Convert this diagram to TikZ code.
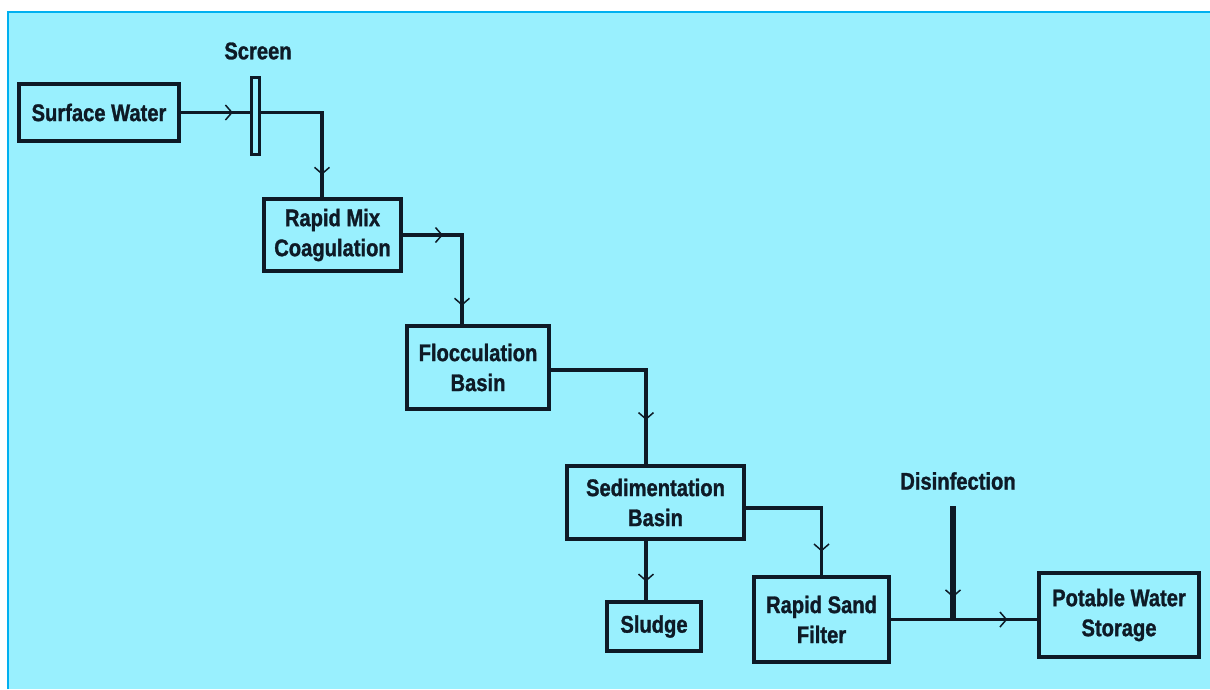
\documentclass[tikz,border=0pt]{standalone}
\usepackage{fontspec}
\newfontfamily\labfont[FakeStretch=0.84, BoldFeatures={FakeBold=1.2}]{Liberation Sans}
\usetikzlibrary{arrows.meta}
\definecolor{bg}{HTML}{99F0FE}
\definecolor{frame}{HTML}{00B0F0}
\definecolor{ink}{HTML}{0E1A26}
\begin{document}
\begin{tikzpicture}[x=1pt,y=-1pt,
  box/.style={draw=ink, line width=4pt, inner sep=0pt, align=center, text=ink,
    font=\labfont\bfseries\fontsize{24}{30}\selectfont},
  lab/.style={text=ink, inner sep=0pt, font=\labfont\bfseries\fontsize{24}{30}\selectfont},
  flow/.style={draw=ink, line width=3.5pt},
  chv/.style={pos=#1, sloped, allow upside down},
  chev/.pic={\draw[ink, line width=1.5pt] (-3.5,-7.5) -- (3,0) -- (-3.5,7.5);}
]
\useasboundingbox (0,0) rectangle (1210,689);
\fill[white] (0,0) rectangle (1210,689);
\fill[bg] (8,12) rectangle (1210,689);
\draw[frame, line width=2.5pt] (8,689) -- (8,12) -- (1210,12);

% boxes
\node[box, minimum width=160pt, minimum height=57pt] (sw) at (99,112.5) {Surface Water};
\node[box, minimum width=137pt, minimum height=72pt] (rm) at (332.5,235) {Rapid Mix\\Coagulation};
\node[box, minimum width=142pt, minimum height=83pt] (fl) at (478,367.5) {Flocculation\\Basin};
\node[box, minimum width=177pt, minimum height=73pt] (sd) at (655.5,502.5) {Sedimentation\\Basin};
\node[box, minimum width=94pt, minimum height=49pt] (sl) at (654,626.5) {Sludge};
\node[box, minimum width=135pt, minimum height=85pt] (rs) at (821.5,619.5) {Rapid Sand\\Filter};
\node[box, minimum width=160pt, minimum height=84pt] (pw) at (1119,615) {Potable Water\\Storage};

% labels
\node[lab] (scrl) at (258,51) {Screen};
\node[lab] (disl) at (958,481) {Disinfection};

% Surface water -> rapid mix
\coordinate (rmin) at ([xshift=-10.5pt]rm.north);
\draw[flow] (sw.east) -| (rmin);
\path (sw.east) -- (sw.east -| rmin) pic[chv=0.34]{chev} -- (rmin) pic[chv=0.69]{chev};
\node[draw=ink, fill=bg, line width=3pt, minimum width=8pt, minimum height=77pt, inner sep=0pt] (scr) at (255,115.5) {};

% rapid mix -> flocculation
\coordinate (flin) at ([xshift=-16pt]fl.north);
\draw[flow] (rm.east) -| (flin);
\path (rm.east) -- (rm.east -| flin) pic[chv=0.61]{chev} -- (flin) pic[chv=0.75]{chev};

% flocculation -> sedimentation
\coordinate (flout) at ([yshift=-2.5pt]fl.east);
\coordinate (sdin) at ([xshift=-9.5pt]sd.north);
\draw[flow] (flout) -| (sdin);
\path (flout -| sdin) -- (sdin) pic[chv=0.49]{chev};

% sedimentation -> sludge
\coordinate (sdbot) at ([xshift=-9.5pt]sd.south);
\draw[flow] (sdbot) -- (sdbot |- sl.north);
\path (sdbot) -- (sdbot |- sl.north) pic[chv=0.62]{chev};

% sedimentation -> rapid sand filter
\coordinate (sdout) at ([yshift=-5.5pt]sd.east);
\draw[flow] (sdout) -| (rs.north);
\path (sdout -| rs.north) -- (rs.north) pic[chv=0.59]{chev};

% rapid sand filter -> potable water
\draw[flow] (rs.east) -- (rs.east -| pw.west);
\path (rs.east) -- (rs.east -| pw.west) pic[chv=0.77]{chev};

% disinfection
\coordinate (dtop) at (953,506);
\draw[ink, line width=5.5pt] (dtop) -- (dtop |- rs.east);
\path (dtop) -- (dtop |- rs.east) pic[chv=0.77]{chev};
\end{tikzpicture}
\end{document}
